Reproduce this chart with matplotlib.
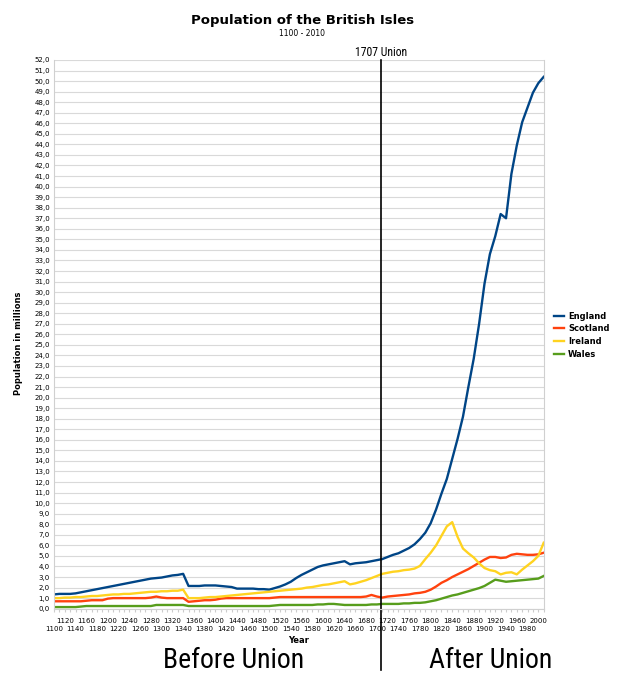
import matplotlib
matplotlib.use("Agg")
import matplotlib.pyplot as plt
from matplotlib import font_manager

# Données : population en millions, une valeur par décennie (1100 - 2010)
years = list(range(1100, 2011, 10))

england = [1.35, 1.4, 1.4, 1.4, 1.45, 1.55, 1.65, 1.75, 1.85, 1.95,
           2.05, 2.15, 2.25, 2.35, 2.45, 2.55, 2.65, 2.75, 2.85, 2.9,
           2.95, 3.05, 3.15, 3.2, 3.3, 2.15, 2.15, 2.15, 2.2, 2.2,
           2.2, 2.15, 2.1, 2.05, 1.9, 1.9, 1.9, 1.9, 1.85, 1.85,
           1.8, 1.95, 2.1, 2.3, 2.55, 2.9, 3.2, 3.45, 3.7, 3.95,
           4.1, 4.2, 4.3, 4.4, 4.5, 4.2, 4.3, 4.35, 4.4, 4.5,
           4.6, 4.7, 4.9, 5.1, 5.25, 5.5, 5.75, 6.1, 6.6, 7.2,
           8.1, 9.4, 10.9, 12.3, 14.2, 16.1, 18.2, 21.0, 23.7, 27.0,
           30.8, 33.6, 35.3, 37.4, 37.0, 41.2, 43.9, 46.1, 47.5, 48.9,
           49.8, 50.4]

scotland = [0.7, 0.7, 0.7, 0.7, 0.7, 0.7, 0.75, 0.8, 0.8, 0.8,
            0.95, 1.0, 1.0, 1.0, 1.0, 1.0, 1.0, 1.0, 1.05, 1.15,
            1.05, 1.0, 1.0, 1.0, 1.0, 0.65, 0.7, 0.75, 0.8, 0.8,
            0.85, 0.95, 1.0, 1.0, 1.0, 1.0, 1.0, 1.0, 1.0, 1.0,
            1.0, 1.05, 1.1, 1.1, 1.1, 1.1, 1.1, 1.1, 1.1, 1.1,
            1.1, 1.1, 1.1, 1.1, 1.1, 1.1, 1.1, 1.1, 1.15, 1.3,
            1.15, 1.05, 1.15, 1.2, 1.25, 1.3, 1.35, 1.45, 1.5, 1.6,
            1.8, 2.1, 2.45, 2.7, 3.0, 3.25, 3.5, 3.75, 4.05, 4.35,
            4.65, 4.9, 4.9, 4.8, 4.85, 5.1, 5.2, 5.15, 5.1, 5.1,
            5.15, 5.3]

ireland = [1.0, 1.0, 1.05, 1.05, 1.1, 1.1, 1.15, 1.2, 1.2, 1.25,
           1.3, 1.35, 1.35, 1.4, 1.4, 1.45, 1.5, 1.55, 1.6, 1.6,
           1.65, 1.65, 1.7, 1.7, 1.8, 1.0, 1.0, 1.0, 1.05, 1.1,
           1.1, 1.15, 1.2, 1.25, 1.3, 1.35, 1.4, 1.45, 1.5, 1.55,
           1.6, 1.65, 1.7, 1.75, 1.8, 1.85, 1.9, 2.0, 2.05, 2.15,
           2.25, 2.3, 2.4, 2.5, 2.6, 2.3, 2.4, 2.55, 2.7, 2.9,
           3.1, 3.3, 3.4, 3.5, 3.55, 3.65, 3.7, 3.8, 4.05, 4.7,
           5.3, 6.0, 6.9, 7.8, 8.2, 6.8, 5.7, 5.25, 4.85, 4.3,
           3.85, 3.65, 3.55, 3.25, 3.4, 3.45, 3.25, 3.7, 4.1, 4.5,
           5.0, 6.25]

wales = [0.15, 0.15, 0.15, 0.15, 0.15, 0.2, 0.25, 0.25, 0.25, 0.25,
         0.25, 0.25, 0.25, 0.25, 0.25, 0.25, 0.25, 0.25, 0.25, 0.35,
         0.35, 0.35, 0.35, 0.35, 0.35, 0.25, 0.25, 0.25, 0.25, 0.25,
         0.25, 0.25, 0.25, 0.25, 0.25, 0.25, 0.25, 0.25, 0.25, 0.25,
         0.25, 0.3, 0.35, 0.35, 0.35, 0.35, 0.35, 0.35, 0.35, 0.4,
         0.4, 0.45, 0.45, 0.4, 0.35, 0.35, 0.35, 0.35, 0.35, 0.4,
         0.4, 0.45, 0.45, 0.45, 0.45, 0.5, 0.5, 0.55, 0.55, 0.6,
         0.7, 0.8, 0.95, 1.1, 1.25, 1.35, 1.5, 1.65, 1.8, 1.95,
         2.15, 2.45, 2.75, 2.65, 2.55, 2.6, 2.65, 2.7, 2.75, 2.8,
         2.85, 3.1]

series = [("England", england, "#004586"),
          ("Scotland", scotland, "#ff420e"),
          ("Ireland", ireland, "#ffd320"),
          ("Wales", wales, "#579d1c")]

union_year = 1707
y_max = 52


def narrow_family():
    """Cherche une police étroite installée, sinon None"""
    for fam in ["Liberation Sans Narrow", "Roboto Condensed", "Open Sans Condensed",
                "DejaVu Sans Condensed"]:
        try:
            font_manager.findfont(font_manager.FontProperties(family=fam),
                                  fallback_to_default=False)
            return fam
        except ValueError:
            continue
    return None


narrow = narrow_family()
big_size = 20 if narrow else 17

# ~~~~~~~~~~

fig = plt.figure(figsize=(6.23, 6.8), dpi=100)
ax = fig.add_axes([0.0867, 0.1049, 0.786, 0.8069])

for name, values, color in series:
    ax.plot(years, values, color=color, lw=1.7, label=name, solid_joinstyle="round")

ax.set_xlim(years[0], years[-1])
ax.set_ylim(0, y_max)

# Graduations de l'axe Y : une par million, virgule décimale
ax.set_yticks(range(0, y_max + 1))
ax.set_yticklabels(["%d,0" % v for v in range(0, y_max + 1)], fontsize=5)
ax.yaxis.grid(True, color="#d9d9d9", lw=0.8)
ax.set_axisbelow(True)

# Graduations de l'axe X : étiquettes toutes les 20 ans sur deux rangées
ax.set_xticks(years)
ax.set_xticklabels([])
ax.tick_params(axis="x", length=2, color="#cccccc")
ax.tick_params(axis="y", length=0, pad=3)
for i, yr in enumerate(range(1100, 2001, 20)):
    row = -0.022 if i % 2 else -0.037
    ax.text(yr, row, str(yr), transform=ax.get_xaxis_transform(),
            ha="center", va="center", fontsize=5)

for side in ["left", "right", "bottom", "top"]:
    ax.spines[side].set_color("#d0d0d0")
    ax.spines[side].set_linewidth(0.8)
ax.spines["top"].set_visible(False)

ax.text(0.5, -0.058, "Year", transform=ax.transAxes, ha="center", va="center",
        fontsize=6, fontweight="bold")
fig.text(0.03, 0.495, "Population in millions", rotation=90, ha="center",
         va="center", fontsize=6, fontweight="bold")

fig.text(0.485, 0.97, "Population of the British Isles", ha="center",
         va="center", fontsize=9.5, fontweight="bold")
fig.text(0.485, 0.95, "1100 - 2010", ha="center", va="center", fontsize=5.5)

# Ligne de l'Union de 1707, qui descend sous l'axe
ax.plot([union_year, union_year], [y_max, -5.8], color="black", lw=1.2,
        clip_on=False)
fam = [narrow, "DejaVu Sans"] if narrow else ["DejaVu Sans"]
ax.text(union_year, y_max + 0.1, "1707 Union", ha="center", va="bottom",
        fontsize=8.5 if narrow else 7.5, family=fam)

fig.text(0.375, 0.028, "Before Union", ha="center", va="center",
         fontsize=big_size, family=fam)
fig.text(0.787, 0.028, "After Union", ha="center", va="center",
         fontsize=big_size, family=fam)

leg = fig.legend(loc="center left", bbox_to_anchor=(0.877, 0.507), frameon=False,
                 fontsize=6, handlelength=1.2, handletextpad=0.5, labelspacing=0.45)
for t in leg.get_texts():
    t.set_fontweight("bold")

fig.savefig("out.png", dpi=100)
